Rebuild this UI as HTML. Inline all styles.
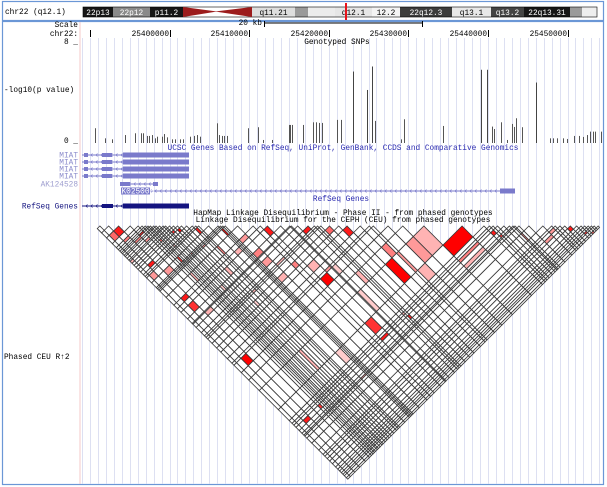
<!DOCTYPE html>
<html><head><meta charset="utf-8">
<style>
html,body{margin:0;padding:0;background:#fff;}
svg{display:block;}
text{font-family:"Liberation Mono",monospace;font-size:7.8px;}
</style></head>
<body>
<svg id="chart" width="607" height="487" viewBox="0 0 607 487" xmlns="http://www.w3.org/2000/svg">
  <rect x="0" y="0" width="607" height="487" fill="#fff"/>
  <g>
    <rect x="2.5" y="1.5" width="601" height="19" fill="#fff" stroke="#6b97d6" stroke-width="1.2"/>
    <text x="5" y="14" font-size="8.5px">chr22 (q12.1)</text>
    <g id="bands"></g>
    <rect x="345" y="3" width="2" height="17" fill="#e8141c"/>
  </g>
  <rect x="2.5" y="21.5" width="601" height="463" fill="none" stroke="#6b97d6" stroke-width="1.2"/>
  <g id="grid"></g>
  <line x1="80" y1="22" x2="80" y2="484" stroke="#f4c8c8" stroke-width="1"/>
  <g>
    <text x="78" y="27" text-anchor="end">Scale</text>
    <text x="262" y="25" text-anchor="end">20 kb</text>
    <line x1="264" y1="23" x2="423" y2="23" stroke="#000" stroke-width="1"/>
    <line x1="264.5" y1="21" x2="264.5" y2="27" stroke="#000"/>
    <line x1="422.5" y1="21" x2="422.5" y2="27" stroke="#000"/>
    <text x="78" y="36" text-anchor="end">chr22:</text>
    <line x1="90.5" y1="30" x2="90.5" y2="37" stroke="#000"/>
    <g id="ruler"></g>
  </g>
  <g>
    <text x="78" y="44" text-anchor="end">8 _</text>
    <text x="337" y="44" text-anchor="middle">Genotyped SNPs</text>
    <text x="4" y="92">-log10(p value)</text>
    <text x="78" y="143" text-anchor="end">0 _</text>
    <g id="snpbars"></g>
  </g>
  <g fill="#7a7acb">
    <text x="343" y="150" text-anchor="middle" fill="#2a2ab0">UCSC Genes Based on RefSeq, UniProt, GenBank, CCDS and Comparative Genomics</text>
    <g id="genes"></g>
    <text x="341" y="201" text-anchor="middle" fill="#2a2ab0">RefSeq Genes</text>
  </g>
  <g>
    <text x="343" y="215" text-anchor="middle">HapMap Linkage Disequilibrium - Phase II - from phased genotypes</text>
    <text x="343" y="222" text-anchor="middle">Linkage Disequilibrium for the CEPH (CEU) from phased genotypes</text>
    <text x="4" y="359">Phased CEU R↑2</text>
    <g id="ld"></g>
  </g>
</svg>
<script>
const snpPositionsKb = [25390.6,25391.9,25392.8,25394.4,25395.7,25396.4,25396.7,25397.2,25397.4,25397.8,25398.2,25398.4,25399.1,25399.3,25399.7,25400.3,25400.7,25401.3,25401.7,25402.6,25403.1,25403.5,25403.8,25406.0,25406.2,25406.6,25406.8,25407.2,25409.9,25411.1,25411.7,25412.9,25415.0,25415.2,25415.4,25416.8,25418.0,25418.4,25418.8,25419.2,25421.0,25421.5,25423.1,25424.8,25425.4,25425.8,25429.1,25429.5,25434.4,25439.1,25439.9,25440.5,25440.8,25441.6,25442.4,25443.0,25443.3,25443.5,25444.3,25446.0,25447.8,25448.2,25448.7,25449.4,25449.9,25450.8,25451.5,25451.9,25452.4,25452.8,25453.2,25453.5,25454.2];
const snpLogP = [1.17,0.37,0.29,0.63,0.77,0.77,0.77,0.56,0.56,0.63,0.37,0.5,0.5,0.71,0.45,0.29,0.29,0.29,0.29,0.5,0.56,0.63,0.5,1.56,0.63,0.56,0.56,0.56,1.17,1.25,0.24,0.24,1.43,1.43,1.43,1.43,1.64,1.64,1.59,1.59,1.83,1.83,5.66,4.2,6.06,1.75,0.29,1.88,1.35,5.8,5.8,1.3,1.11,1.64,0.24,1.51,1.27,1.96,1.25,4.79,0.37,0.37,0.37,0.37,0.32,0.56,0.56,0.48,0.63,0.9,0.9,0.9,0.9];
const rulerTicksKb = [25400,25410,25420,25430,25440,25450];
const rulerLabels = ["25400000","25410000","25420000","25430000","25440000","25450000"];
const ldPairA = [25412.75,25423.05,25393.0,25418.9,25412.9,25393.3,25393.4,25400.6,25436.0,25449.8,25431.3,25425.6,25407.5,25407.6,25408.4,25402.1,25407.5,25394.2,25394.5,25394.2,25400.8,25425.9,25433.1,25432.2,25415.4,25405.5,25405.3,25401.3,25392.8,25393.3,25392.4,25397.0,25416.8,25421.5,25447.8,25396.2,25413.0,
  25391.9,25392.8,25395.7,25397.2,25398.2,25399.3,25401.7,25403.5,25406.0,25406.6,25409.9,25411.1,25412.9,25415.0,25418.0,25390.6,25391.9,25396.7,25399.1,25402.6,25395.7,25399.7,25403.1,25406.2,25411.7,25419.2,25440.5,25443.3,25446.0,25451.5,25452.4,25429.1,25424.8,25439.9,25418.4,25415.4];
const ldPairB = [25426.3,25435.4,25426.7,25442.0,25440.8,25441.3,25411.2,25402.1,25438.8,25450.8,25436.6,25434.1,25421.0,25414.4,25416.9,25412.4,25411.0,25397.7,25405.6,25416.0,25432.0,25437.7,25442.4,25440.8,25433.2,25439.1,25443.3,25420.7,25394.4,25402.6,25412.8,25405.6,25418.0,25423.1,25448.7,25441.6,25439.1,
  25394.4,25396.4,25399.1,25400.7,25403.1,25406.2,25406.8,25409.9,25411.7,25415.2,25418.4,25421.0,25423.1,25425.4,25429.5,25399.7,25403.8,25409.9,25415.0,25418.8,25397.4,25401.3,25403.8,25407.2,25412.9,25421.0,25443.0,25446.0,25449.4,25453.2,25454.2,25434.4,25429.5,25441.6,25440.5,25426.3];
const ldR2 = [1,1,1,0.9,0.9,0.9,0.9,1,1,0.9,0.3,0.4,0.3,0.5,0.4,0.3,0.4,0.5,0.4,0.3,0.3,0.3,0.3,0.5,0.2,0.2,0.4,0.2,0.9,0.9,0.8,0.8,0.9,0.9,0.4,0.8,0.8,
  0.6,0.5,0.4,0.6,0.3,0.5,0.4,0.5,0.3,0.4,0.3,0.5,0.3,0.4,0.3,0.3,0.4,0.3,0.2,0.3,0.9,0.8,0.9,1,0.9,0.6,0.8,0.5,0.4,0.8,0.6,0.4,0.5,0.9,0.3,0.2];

const NS = "http://www.w3.org/2000/svg";
function xScale(kb){ return 169.5 + (kb - 25400) * 7.96; }
function yScale(v){ return 143 - v / 8 * 101; }
function mk(tag, attrs, parent){ const e = document.createElementNS(NS, tag); for (const k in attrs) e.setAttribute(k, attrs[k]); parent.appendChild(e); return e; }

const bands = document.getElementById('bands');
const bandDefs = [[83,113,"#161616","#fff","22p13"],[113,150,"#8a8a8a","#fff","22p12"],[150,183,"#161616","#fff","p11.2"],[252,295,"#dedede","#000","q11.21"],[295,308,"#9a9a9a","",""],[308,335,"#ececec","",""],[335,372,"#e6e6e6","#000","q12.1"],[372,400,"#f4f4f4","#000","12.2"],[400,452,"#3c3c3c","#fff","22q12.3"],[452,491,"#e8e8e8","#000","q13.1"],[491,524,"#444","#fff","q13.2"],[524,570,"#161616","#fff","22q13.31"],[570,582,"#9a9a9a","",""],[582,597,"#eeeeee","",""]];
for (const b of bandDefs) {
  const r = mk('rect', {x:b[0], y:7, width:b[1]-b[0], height:10, fill:b[2]}, bands);
  
  
  if (b[4]) {
    const t = mk('text', {x:(b[0]+b[1])/2, y:15, 'text-anchor':'middle', fill:b[3], 'font-size':'8px'}, bands);
    t.textContent = b[4];
    
    
  }
}
mk('rect', {x:83, y:7, width:514, height:10, fill:'none', stroke:'#000', 'stroke-width':0.6}, bands);
const cen = mk('polygon', {points:"183,7 217,11.5 183,17", fill:"#9c1c1c"}, bands);


const cen2 = mk('polygon', {points:"252,7 215,11.5 252,17", fill:"#9c1c1c"}, bands);



const grid = document.getElementById('grid');
for (let kb = 25389; kb <= 25454; kb++) {
  const x = Math.round(xScale(kb)) + 0.5;
  if (x < 82 || x > 602) continue;
  const l = mk('line', {x1:x, y1:38, x2:x, y2:484, stroke:'#dde0f2', 'stroke-width':1}, grid);
  
  
}

const ruler = document.getElementById('ruler');
rulerTicksKb.forEach((kb, i) => {
  const x = Math.round(xScale(kb)) + 0.5;
  const l = mk('line', {x1:x, y1:30, x2:x, y2:37, stroke:'#000'}, ruler);
  
  
  const t = mk('text', {x:x - 1.5, y:36, 'text-anchor':'end'}, ruler);
  t.textContent = rulerLabels[i];
  
  
});

const snpG = document.getElementById('snpbars');
snpPositionsKb.forEach((kb, i) => {
  const x = Math.round(xScale(kb));
  const y = yScale(snpLogP[i]);
  const r = mk('rect', {x:x, y:y, width:1, height:143 - y, fill: snpLogP[i] > 3 ? '#444' : '#555'}, snpG);
  
  
});

const genes = document.getElementById('genes');
function lbl(txt, y, col){ const t = mk('text', {x:78, y:y+2.5, 'text-anchor':'end', fill:col}, genes); t.textContent = txt;   }
function geneRow(y, col, blocks, x1, x2, name){
  const g = mk('g', {}, genes);
  
  
  mk('line', {x1:x1, y1:y, x2:x2, y2:y, stroke:col, 'stroke-width':1}, g);
  for (let x = x1 + 4; x < x2 - 2; x += 5) mk('path', {d:`M${x+1.5},${y-1.5} L${x},${y} L${x+1.5},${y+1.5}`, stroke:col, fill:'none', 'stroke-width':0.7}, g);
  for (const b of blocks) mk('rect', {x:b[0], y:y-b[2]/2, width:b[1]-b[0], height:b[2], fill:col}, g);
}
const gc = '#7a7acb';
[155,162,169,176].forEach(y => { lbl('MIAT', y, '#8c8ccc'); geneRow(y, gc, [[84,88,4],[102,112,4],[123,189,5]], 82, 189, 'miat-transcript'); });
lbl('AK124528', 184, '#a0a0d0');
geneRow(184, gc, [[120,130,4],[153,158,4]], 120, 158, 'ak124528-transcript');
geneRow(191, gc, [[121,150,7],[500,515,5]], 121, 515, 'long-transcript');
const bt = mk('text', {x:135.5, y:193.5, 'text-anchor':'middle', fill:'#fff', 'font-size':'6px'}, genes);
bt.textContent = 'AK025000';


lbl('RefSeq Genes', 206, '#141480');
geneRow(206, '#141480', [[102,113,4],[123,189,5]], 82, 189, 'refseq-miat');

const ld = document.getElementById('ld');
const TOP = 226;
const xs = snpPositionsKb.map(xScale);
const n = xs.length;
const L = [], R = [];
for (let i = 0; i < n; i++) {
  L.push(i === 0 ? xs[0] : (xs[i-1] + xs[i]) / 2);
  R.push(i === n-1 ? xs[n-1] : (xs[i] + xs[i+1]) / 2);
}
function nearest(kb){ let b = 0; for (let i = 1; i < n; i++) if (Math.abs(snpPositionsKb[i]-kb) < Math.abs(snpPositionsKb[b]-kb)) b = i; return b; }
const r2map = {};
ldR2.forEach((v, k) => {
  let i = nearest(ldPairA[k]), j = nearest(ldPairB[k]);
  if (i === j) return;
  if (i > j) { const t = i; i = j; j = t; }
  r2map[i + ',' + j] = v;
});
function pt(a, b){ return ((a + b) / 2).toFixed(2) + ',' + (TOP + (b - a) / 2).toFixed(2); }
for (let i = 0; i < n; i++) {
  for (let j = i + 1; j < n; j++) {
    const v = r2map[i + ',' + j] || 0;
    const c = Math.round(255 * (1 - v));
    const p = mk('polygon', {points:[pt(R[i],L[j]), pt(L[i],L[j]), pt(L[i],R[j]), pt(R[i],R[j])].join(' '), fill:`rgb(255,${c},${c})`, stroke:'#3a3a3a', 'stroke-width':0.85}, ld);
    
    
  }
}
</script>
</body></html>
